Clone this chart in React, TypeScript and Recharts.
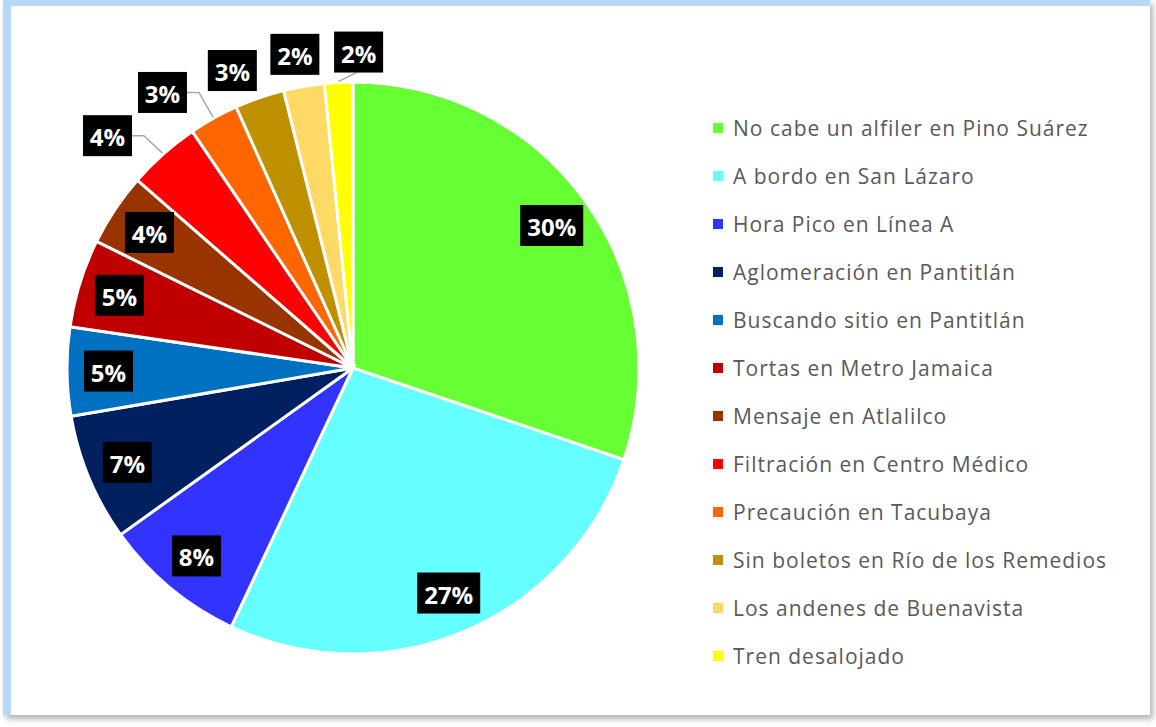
import React from 'react';
import { PieChart, Pie, Cell, Legend } from 'recharts';

// Escenas del metro (share of votes)
const names = [
  'No cabe un alfiler en Pino Suárez',
  'A bordo en San Lázaro',
  'Hora Pico en Línea A',
  'Aglomeración en Pantitlán',
  'Buscando sitio en Pantitlán',
  'Tortas en Metro Jamaica',
  'Mensaje en Atlalilco',
  'Filtración en Centro Médico',
  'Precaución en Tacubaya',
  'Sin boletos en Río de los Remedios',
  'Los andenes de Buenavista',
  'Tren desalojado',
];
const values = [30.2, 26.8, 8.1, 7.2, 5.0, 5.0, 4.1, 4.1, 2.8, 2.8, 2.3, 1.6];
const colors = [
  '#66FF33', '#66FFFF', '#3333FF', '#002060', '#0070C0', '#C00000',
  '#993300', '#FF0000', '#FF6600', '#BF9000', '#FFD966', '#FFFF00',
];

const data = names.map((name, i) => ({ name, value: values[i] }));

const RADIAN = Math.PI / 180;
const CX = 353;
const CY = 368;
const R = 286;
const FONT = '"Open Sans", sans-serif';

// small slices get their label outside: [clockwise nudge in degrees, radius, leader line]
const outside: Record<number, [number, number, boolean]> = {
  7: [-5, 338, true],
  8: [-5.5, 335, true],
  9: [-3, 321, false],
  10: [-0.6, 319, false],
  11: [3.9, 316, true],
};

const renderLabel = (props: any) => {
  const { midAngle, percent, index } = props;
  const text = `${Math.round(percent * 100)}%`;
  const w = text.length > 2 ? 63 : 49;
  const h = 41;
  const out = outside[index];
  const ang = out ? midAngle - out[0] : midAngle;
  const r = out ? out[1] : R * 0.855;
  const x = CX + r * Math.cos(-ang * RADIAN);
  const y = CY + r * Math.sin(-ang * RADIAN);

  let leader = null;
  if (out && out[2]) {
    const px = CX + (R + 1) * Math.cos(-midAngle * RADIAN);
    const py = CY + (R + 1) * Math.sin(-midAngle * RADIAN);
    const right = x + w / 2;
    const bottom = y + h / 2;
    let pts = '';
    if (right < px - 5) {
      pts = `${px},${py} ${right + 12},${y} ${right},${y}`;
    } else {
      pts = `${px},${py} ${x - 2},${bottom}`;
    }
    leader = <polyline points={pts} fill="none" stroke="#A6A6A6" strokeWidth={1.5} />;
  }

  return (
    <g key={`lbl-${index}`}>
      {leader}
      <rect x={x - w / 2} y={y - h / 2} width={w} height={h} fill="#000" />
      <text
        x={x}
        y={y + 1}
        textAnchor="middle"
        dominantBaseline="central"
        fill="#fff"
        fontFamily={FONT}
        fontWeight={700}
        fontSize={24}
      >
        {text}
      </text>
    </g>
  );
};

const LegendList = () => (
  <div style={{ fontFamily: FONT }}>
    {data.map((d, i) => (
      <div
        key={d.name}
        style={{ display: 'flex', alignItems: 'center', height: 48, whiteSpace: 'nowrap' }}
      >
        <span
          style={{ width: 10, height: 10, background: colors[i], marginRight: 10, flex: 'none' }}
        />
        <span style={{ fontSize: 21, letterSpacing: 1, color: '#595959' }}>{d.name}</span>
      </div>
    ))}
  </div>
);

export default function App() {
  return (
    <div
      style={{
        position: 'absolute',
        left: 0,
        top: 0,
        width: 1156,
        height: 727,
        background: '#fff',
        overflow: 'hidden',
      }}
    >
      <div
        style={{
          position: 'absolute',
          left: 3,
          top: 0,
          width: 1147,
          height: 715,
          boxSizing: 'border-box',
          borderTop: '6px solid #B7D8FA',
          borderLeft: '8px solid #B7D8FA',
          background: '#fff',
          boxShadow: '3px 4px 6px rgba(0,0,0,0.3)',
        }}
      />
      <div style={{ position: 'absolute', left: 0, top: 0 }}>
        <PieChart width={1156} height={727} margin={{ top: 0, right: 0, bottom: 0, left: 0 }}>
          <Pie
            data={data}
            dataKey="value"
            nameKey="name"
            cx={CX}
            cy={CY}
            outerRadius={R}
            startAngle={90}
            endAngle={-270}
            stroke="#fff"
            strokeWidth={3}
            label={renderLabel}
            labelLine={false}
            isAnimationActive={false}
          >
            {data.map((d, i) => (
              <Cell key={d.name} fill={colors[i]} />
            ))}
          </Pie>
          <Legend
            content={<LegendList />}
            wrapperStyle={{ left: 713, top: 104, width: 440 }}
          />
        </PieChart>
      </div>
    </div>
  );
}
